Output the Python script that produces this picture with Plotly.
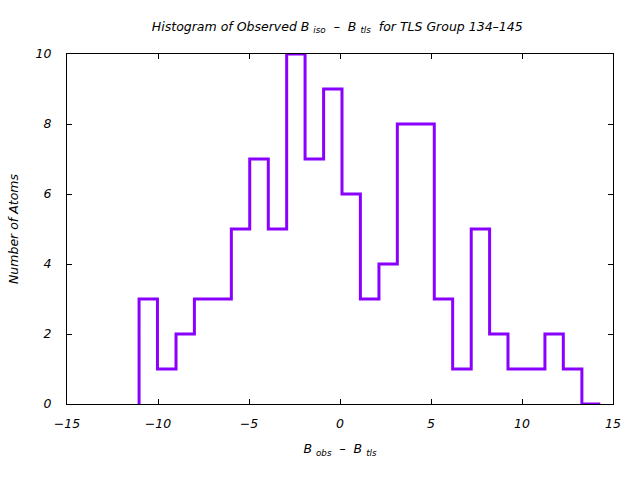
import plotly.graph_objects as go

# Bin edges and counts per bin
bin_edges = [-11.04, -10.03, -9.01, -8.00, -6.99, -5.97, -4.96, -3.94, -2.93, -1.92,
             -0.90, 0.11, 1.12, 2.14, 3.15, 4.16, 5.18, 6.19, 7.21, 8.22,
             9.23, 10.25, 11.26, 12.27, 13.29, 14.30]
counts = [3, 1, 2, 3, 3, 5, 7, 5, 10, 7, 9, 6, 3, 4, 8, 8, 3, 1, 5, 2, 1, 1, 2, 1, 0]

x_ticks = [-15, -10, -5, 0, 5, 10, 15]
y_ticks = [0, 2, 4, 6, 8, 10]

# step outline: start at baseline, then each bin's level
xs = [bin_edges[0]] + bin_edges[:-1] + [bin_edges[-1]]
ys = [0] + counts + [counts[-1]]

FS = 12.5
font_main = dict(family="DejaVu Sans", size=FS, color="black", style="italic")

fig = go.Figure()
fig.add_trace(go.Scatter(
    x=xs, y=ys, mode="lines", line=dict(shape="hv", color="#8a00ff", width=3),
    cliponaxis=False, showlegend=False, hoverinfo="skip"))

fig.update_layout(
    width=640, height=480,
    margin=dict(l=67, r=27, t=54, b=76),
    paper_bgcolor="white", plot_bgcolor="white",
    font=font_main,
    title=dict(text="Histogram of Observed B <sub>iso</sub>  –  B <sub>tls</sub>  for TLS Group 134–145",
               x=0.527, xanchor="center", y=0.945, yanchor="middle",
               font=dict(family="DejaVu Sans", size=FS, style="italic", color="black")),
    xaxis=dict(range=[-15, 15], tickvals=x_ticks, ticktext=[str(v).replace("-", "−") for v in x_ticks],
               ticks="inside", ticklen=5, tickcolor="black", showline=True, linecolor="black",
               linewidth=1, mirror="ticks", showgrid=False, zeroline=False,
               ticklabelstandoff=8,
               title=dict(text="B <sub>obs</sub>  –  B <sub>tls</sub>", standoff=14,
                          font=dict(family="DejaVu Sans", size=FS, style="italic"))),
    yaxis=dict(range=[0, 10], tickvals=y_ticks,
               ticks="inside", ticklen=5, tickcolor="black", showline=True, linecolor="black",
               linewidth=1, mirror="ticks", showgrid=False, zeroline=False,
               ticklabelstandoff=12,
               title=dict(text="Number of Atoms", standoff=14,
                          font=dict(family="DejaVu Sans", size=FS, style="italic"))),
)

fig.write_html("out.html")
